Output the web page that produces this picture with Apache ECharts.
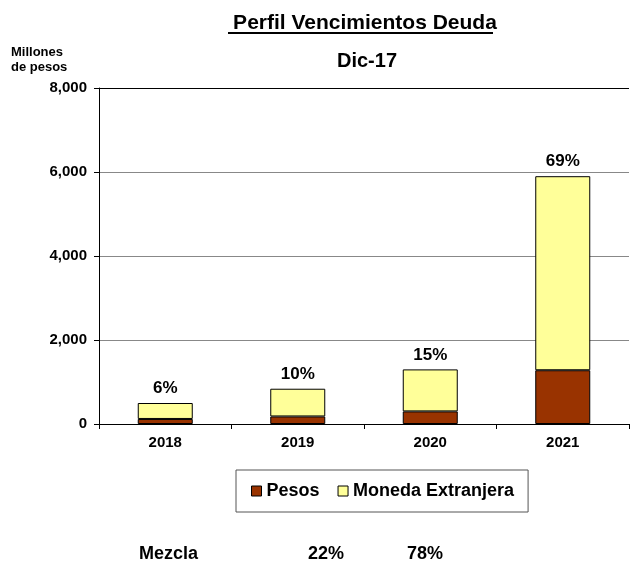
<!DOCTYPE html>
<html>
<head>
<meta charset="utf-8">
<script src="https://cdn.jsdelivr.net/npm/echarts@6/dist/echarts.min.js"></script>
<style>
  html, body { margin: 0; padding: 0; background: #fff; }
  #main { width: 639px; height: 562px; }
</style>
</head>
<body>
<div id="main"></div>
<script>
var years = ['2018', '2019', '2020', '2021'];
var pesos = [120, 180, 300, 1280];
var monedaExtranjera = [380, 660, 1000, 4620];
var yTicks = [0, 2000, 4000, 6000, 8000];
var mezcla = ['22%', '78%'];

var totals = [];
var grandTotal = 0;
for (var i = 0; i < years.length; ++i) {
  totals[i] = pesos[i] + monedaExtranjera[i];
  grandTotal += totals[i];
}

var font = 'Liberation Sans, Arial, sans-serif';
var myChart = echarts.init(document.getElementById('main'));

var option = {
  backgroundColor: '#fff',
  animation: false,
  textStyle: { fontFamily: font },
  title: [{
    text: 'Perfil Vencimientos Deuda',
    left: 360, top: 8, textAlign: 'center',
    textStyle: { fontSize: 21, fontWeight: 'bold', color: '#000', fontFamily: font }
  }, {
    text: 'Dic-17',
    left: 362, top: 46, textAlign: 'center',
    textStyle: { fontSize: 20, fontWeight: 'bold', color: '#000', fontFamily: font }
  }],
  legend: {
    data: ['Pesos', 'Moneda Extranjera'],
    left: 236, top: 470,
    padding: [12, 14, 12, 15],
    itemGap: 18,
    borderColor: '#555', borderWidth: 1,
    icon: 'rect', itemWidth: 10, itemHeight: 10,
    itemStyle: { borderColor: '#000', borderWidth: 1 },
    textStyle: { fontSize: 18, fontWeight: 'bold', color: '#000', fontFamily: font }
  },
  grid: { left: 99, right: 10, top: 88, bottom: 138 },
  xAxis: {
    type: 'category',
    data: years,
    axisLine: { lineStyle: { color: '#000', width: 1 } },
    axisTick: { show: true, length: 5, lineStyle: { color: '#000' } },
    axisLabel: { fontSize: 15, fontWeight: 'bold', color: '#000', margin: 11, fontFamily: font }
  },
  yAxis: {
    type: 'value',
    min: 0, max: 8000, interval: 2000,
    axisLine: { show: true, lineStyle: { color: '#000' } },
    axisTick: { show: true, length: 5, lineStyle: { color: '#000' } },
    axisLabel: {
      fontSize: 15, fontWeight: 'bold', color: '#000', margin: 12, fontFamily: font,
      formatter: function(v) { return echarts.format.addCommas(v); }
    },
    splitLine: { show: true, lineStyle: { color: ['#888', '#888', '#888', '#888', '#000'], width: 1 } }
  },
  series: [{
    name: 'Pesos',
    type: 'bar',
    stack: 'deuda',
    barWidth: 55,
    data: pesos,
    itemStyle: { color: '#993300', borderColor: '#000', borderWidth: 1 }
  }, {
    name: 'Moneda Extranjera',
    type: 'bar',
    stack: 'deuda',
    barWidth: 55,
    data: monedaExtranjera,
    itemStyle: { color: '#FFFF99', borderColor: '#000', borderWidth: 1 },
    label: {
      show: true,
      position: 'top',
      distance: 6,
      fontSize: 17, fontWeight: 'bold', color: '#000', fontFamily: font,
      formatter: function(params) {
        return Math.round(totals[params.dataIndex] / grandTotal * 100) + '%';
      }
    }
  }],
  graphic: [{
    type: 'line',
    shape: { x1: 228, y1: 33, x2: 493, y2: 33 },
    style: { stroke: '#000', lineWidth: 2 }
  }, {
    type: 'text', left: 11, top: 45,
    style: { text: 'Millones\nde pesos', font: 'bold 13px ' + font, fill: '#000', lineHeight: 15 }
  }, {
    type: 'text', left: 139, top: 545,
    style: { text: 'Mezcla', font: 'bold 18px ' + font, fill: '#000' }
  }, {
    type: 'text', left: 308, top: 545,
    style: { text: mezcla[0], font: 'bold 18px ' + font, fill: '#000' }
  }, {
    type: 'text', left: 407, top: 545,
    style: { text: mezcla[1], font: 'bold 18px ' + font, fill: '#000' }
  }]
};

myChart.setOption(option);
</script>
</body>
</html>
